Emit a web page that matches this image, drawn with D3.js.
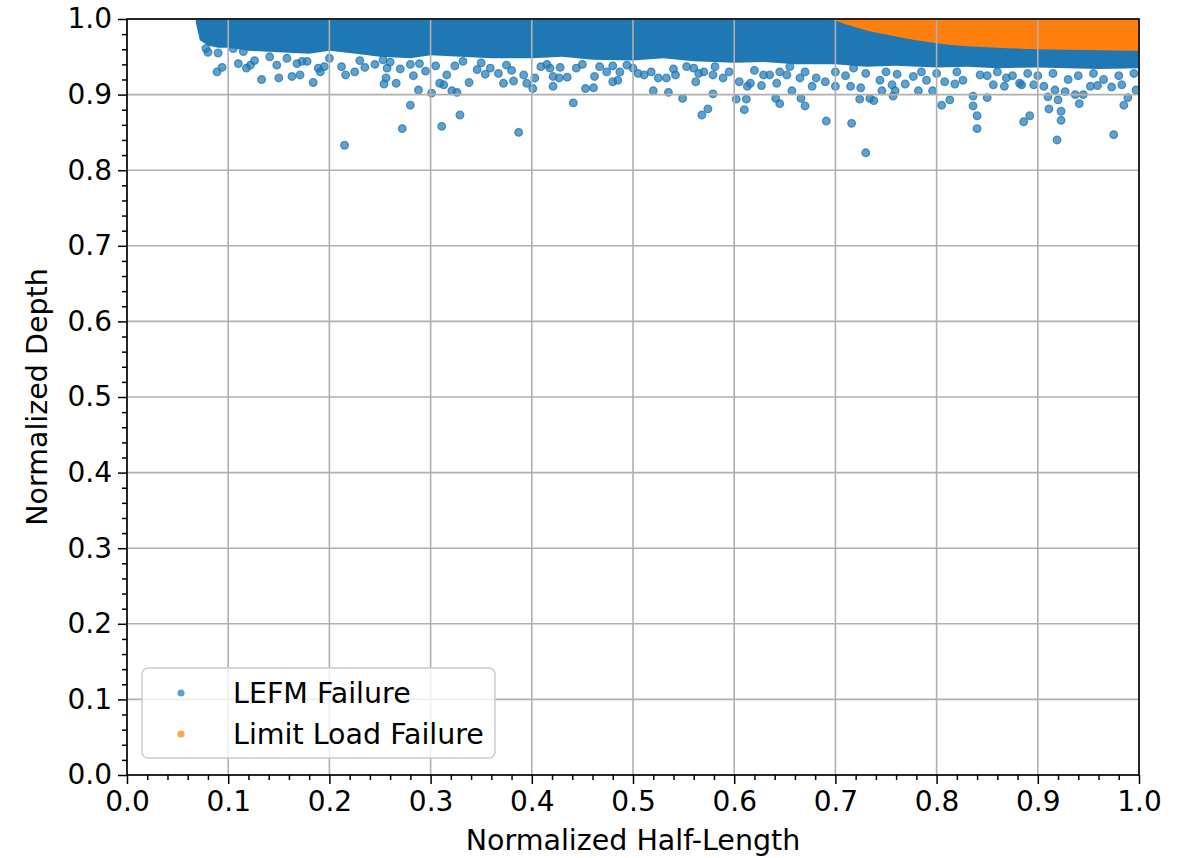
<!DOCTYPE html>
<html>
<head>
<meta charset="utf-8">
<script src="https://cdn.jsdelivr.net/npm/d3@7"></script>
<style>
  body { margin: 0; background: #fff; }
  svg { font-family: "DejaVu Sans", sans-serif; }
</style>
</head>
<body>
<svg id="chart" width="1185" height="858"></svg>
<script>
// tick labels
const majorTicks = [0.0, 0.1, 0.2, 0.3, 0.4, 0.5, 0.6, 0.7, 0.8, 0.9, 1.0];
const minorTicks = [0.02, 0.04, 0.06, 0.08, 0.12, 0.14, 0.16, 0.18, 0.22, 0.24, 0.26, 0.28,
  0.32, 0.34, 0.36, 0.38, 0.42, 0.44, 0.46, 0.48, 0.52, 0.54, 0.56, 0.58, 0.62, 0.64, 0.66, 0.68,
  0.72, 0.74, 0.76, 0.78, 0.82, 0.84, 0.86, 0.88, 0.92, 0.94, 0.96, 0.98];

// dense LEFM band: lower edge (top is 1.0)
const bandX   = [0.068, 0.072, 0.08, 0.09, 0.10, 0.12, 0.15, 0.18, 0.20, 0.22, 0.25, 0.28, 0.30, 0.33, 0.36, 0.40, 0.43, 0.46, 0.50, 0.53, 0.56, 0.60, 0.63, 0.66, 0.70, 0.73, 0.76, 0.80, 0.83, 0.86, 0.90, 0.93, 0.96, 1.00];
const bandLow = [0.995, 0.972, 0.965, 0.962, 0.962, 0.958, 0.956, 0.954, 0.958, 0.955, 0.950, 0.948, 0.952, 0.950, 0.948, 0.948, 0.950, 0.946, 0.945, 0.948, 0.944, 0.942, 0.943, 0.940, 0.940, 0.937, 0.938, 0.936, 0.937, 0.935, 0.936, 0.935, 0.934, 0.935];

// limit load region: lower edge (top is 1.0)
const limitX   = [0.695, 0.70, 0.71, 0.72, 0.73, 0.74, 0.76, 0.78, 0.80, 0.83, 0.86, 0.90, 0.95, 1.00];
const limitLow = [1.0, 0.998, 0.993, 0.989, 0.985, 0.982, 0.977, 0.972, 0.968, 0.964, 0.962, 0.960, 0.959, 0.958];

// scattered LEFM points below the band
const lefmX = [0.078, 0.080, 0.089, 0.094, 0.105, 0.110, 0.115, 0.118, 0.122, 0.126, 0.133, 0.141, 0.148, 0.150, 0.158, 0.163, 0.168, 0.171, 0.173, 0.178,
  0.184, 0.189, 0.191, 0.195, 0.212, 0.215, 0.216, 0.225, 0.235, 0.253, 0.256, 0.254, 0.257, 0.266, 0.270, 0.272, 0.280, 0.283, 0.288, 0.289,
  0.295, 0.301, 0.305, 0.309, 0.313, 0.311, 0.316, 0.321, 0.326, 0.329, 0.324, 0.332, 0.338, 0.346, 0.354, 0.359, 0.367, 0.372, 0.382, 0.387,
  0.392, 0.395, 0.375, 0.401, 0.403, 0.409, 0.418, 0.421, 0.421, 0.427, 0.428, 0.435, 0.441, 0.444, 0.453, 0.461, 0.462, 0.467, 0.474, 0.480,
  0.485, 0.487, 0.494, 0.505, 0.511, 0.518, 0.520, 0.525, 0.533, 0.535, 0.542, 0.549, 0.553, 0.560, 0.562, 0.565, 0.568, 0.574, 0.579, 0.579,
  0.581, 0.589, 0.602, 0.605, 0.610, 0.612, 0.613, 0.616, 0.627, 0.629, 0.635, 0.642, 0.641, 0.645, 0.652, 0.657, 0.655, 0.666, 0.665, 0.670,
  0.677, 0.681, 0.691, 0.690, 0.700, 0.716, 0.715, 0.724, 0.725, 0.730, 0.718, 0.734, 0.738, 0.744, 0.746, 0.756, 0.757, 0.759, 0.761, 0.769,
  0.777, 0.782, 0.790, 0.796, 0.805, 0.813, 0.808, 0.818, 0.826, 0.836, 0.836, 0.840, 0.840, 0.843, 0.850, 0.856, 0.867, 0.869, 0.882, 0.884,
  0.886, 0.892, 0.896, 0.906, 0.910, 0.911, 0.917, 0.920, 0.923, 0.923, 0.919, 0.927, 0.937, 0.941, 0.945, 0.952, 0.959, 0.973, 0.975, 0.983,
  0.985, 0.989, 0.997,
  0.090, 0.200, 0.230, 0.245, 0.260, 0.280, 0.350, 0.380, 0.415, 0.450, 0.480, 0.500, 0.540, 0.570, 0.595, 0.620, 0.645, 0.670, 0.700, 0.710,
  0.730, 0.750, 0.785, 0.800, 0.820, 0.850, 0.860, 0.875, 0.890, 0.900, 0.915, 0.930, 0.940, 0.955, 0.965, 0.980, 0.995];
const lefmY = [0.961, 0.956, 0.930, 0.936, 0.961, 0.941, 0.957, 0.935, 0.939, 0.945, 0.920, 0.950, 0.939, 0.922, 0.948, 0.924, 0.941, 0.926, 0.944, 0.944,
  0.916, 0.935, 0.930, 0.937, 0.937, 0.833, 0.926, 0.930, 0.936, 0.946, 0.922, 0.914, 0.935, 0.915, 0.934, 0.855, 0.886, 0.925, 0.906, 0.941,
  0.931, 0.902, 0.938, 0.915, 0.913, 0.858, 0.926, 0.905, 0.903, 0.873, 0.938, 0.944, 0.916, 0.933, 0.927, 0.935, 0.928, 0.915, 0.918, 0.850,
  0.926, 0.915, 0.939, 0.908, 0.922, 0.937, 0.935, 0.911, 0.924, 0.922, 0.936, 0.923, 0.889, 0.935, 0.908, 0.909, 0.924, 0.937, 0.930, 0.917,
  0.919, 0.930, 0.939, 0.928, 0.926, 0.930, 0.905, 0.922, 0.922, 0.903, 0.926, 0.895, 0.937, 0.935, 0.917, 0.928, 0.873, 0.881, 0.901, 0.926,
  0.937, 0.922, 0.894, 0.917, 0.880, 0.894, 0.911, 0.915, 0.912, 0.926, 0.926, 0.915, 0.895, 0.888, 0.926, 0.905, 0.937, 0.895, 0.922, 0.885,
  0.911, 0.922, 0.865, 0.917, 0.911, 0.862, 0.911, 0.894, 0.909, 0.823, 0.935, 0.895, 0.892, 0.919, 0.905, 0.913, 0.898, 0.905, 0.927, 0.914,
  0.924, 0.905, 0.919, 0.905, 0.886, 0.893, 0.917, 0.914, 0.919, 0.898, 0.885, 0.872, 0.855, 0.926, 0.896, 0.913, 0.911, 0.922, 0.915, 0.913,
  0.864, 0.872, 0.913, 0.911, 0.897, 0.881, 0.906, 0.893, 0.878, 0.866, 0.840, 0.904, 0.900, 0.888, 0.900, 0.911, 0.912, 0.910, 0.847, 0.913,
  0.886, 0.896, 0.906,
  0.955, 0.948, 0.945, 0.940, 0.943, 0.940, 0.942, 0.932, 0.940, 0.940, 0.938, 0.935, 0.934, 0.930, 0.930, 0.932, 0.930, 0.930, 0.930, 0.925,
  0.928, 0.930, 0.930, 0.928, 0.930, 0.925, 0.930, 0.925, 0.928, 0.925, 0.928, 0.920, 0.925, 0.928, 0.920, 0.925, 0.928];

const blue = "#1f77b4", orange = "#ff7f0e";
const svg = d3.select("#chart");
const m = { left: 127, right: 1139, top: 19, bottom: 775 };

const x = d3.scaleLinear().domain([0, 1]).range([m.left, m.right]);
const y = d3.scaleLinear().domain([0, 1]).range([m.bottom, m.top]);

const plot = svg.append("g");
svg.append("clipPath").attr("id", "clip")
  .append("rect").attr("x", m.left).attr("y", m.top)
  .attr("width", m.right - m.left).attr("height", m.bottom - m.top);
plot.attr("clip-path", "url(#clip)");

// dense band
const band = d3.area().x((d, i) => x(bandX[i])).y0(d => y(d)).y1(y(1.0));
plot.append("path").datum(bandLow).attr("d", band).attr("fill", blue);

// scattered points
plot.selectAll("circle.lefm")
  .data(lefmX.map((v, i) => [v, lefmY[i]]))
  .join("circle")
  .attr("class", "lefm")
  .attr("cx", d => x(d[0]))
  .attr("cy", d => y(d[1]))
  .attr("r", 3.8)
  .attr("fill", blue).attr("fill-opacity", 0.7)
  .attr("stroke", blue).attr("stroke-opacity", 0.75).attr("stroke-width", 1.3);

// limit load region
const lim = d3.area().x((d, i) => x(limitX[i])).y0(d => y(d)).y1(y(1.0)).curve(d3.curveMonotoneX);
plot.append("path").datum(limitLow).attr("d", lim).attr("fill", orange);

// grid on top
const grid = svg.append("g").attr("stroke", "#b0b0b0").attr("stroke-width", 1.6);
grid.selectAll("line.gx").data(majorTicks).join("line")
  .attr("class", "gx")
  .attr("x1", d => x(d)).attr("x2", d => x(d)).attr("y1", m.top).attr("y2", m.bottom);
grid.selectAll("line.gy").data(majorTicks).join("line")
  .attr("class", "gy")
  .attr("y1", d => y(d)).attr("y2", d => y(d)).attr("x1", m.left).attr("x2", m.right);

// axes
const fmt = d3.format(".1f");
const xAxis = svg.append("g").attr("transform", `translate(0,${m.bottom})`)
  .call(d3.axisBottom(x).tickValues(majorTicks).tickFormat(fmt).tickSize(9).tickPadding(7));
const yAxis = svg.append("g").attr("transform", `translate(${m.left},0)`)
  .call(d3.axisLeft(y).tickValues(majorTicks).tickFormat(fmt).tickSize(9).tickPadding(6));
svg.append("g").attr("transform", `translate(0,${m.bottom})`)
  .call(d3.axisBottom(x).tickValues(minorTicks).tickFormat("").tickSize(5))
  .call(g => g.select(".domain").remove());
svg.append("g").attr("transform", `translate(${m.left},0)`)
  .call(d3.axisLeft(y).tickValues(minorTicks).tickFormat("").tickSize(5))
  .call(g => g.select(".domain").remove());

svg.selectAll(".tick line").attr("stroke", "#000").attr("stroke-width", 1.5);
[xAxis, yAxis].forEach(a => {
  a.select(".domain").remove();
  a.selectAll("text").attr("font-size", 28).attr("fill", "#000")
    .attr("font-family", "DejaVu Sans");
});

// frame
svg.append("rect")
  .attr("x", m.left).attr("y", m.top)
  .attr("width", m.right - m.left).attr("height", m.bottom - m.top)
  .attr("fill", "none").attr("stroke", "#000").attr("stroke-width", 1.6);

// axis titles
svg.append("text").attr("x", (m.left + m.right) / 2).attr("y", 850)
  .attr("text-anchor", "middle").attr("font-size", 28.5).text("Normalized Half-Length");
svg.append("text").attr("transform", `translate(47,${(m.top + m.bottom) / 2}) rotate(-90)`)
  .attr("text-anchor", "middle").attr("font-size", 28.5).text("Normalized Depth");

// legend
const lg = svg.append("g");
lg.append("rect").attr("x", 142).attr("y", 668).attr("width", 353).attr("height", 90)
  .attr("rx", 6).attr("fill", "#fff").attr("fill-opacity", 0.8)
  .attr("stroke", "#ccc").attr("stroke-width", 1.5);
const legendItems = [["LEFM Failure", blue], ["Limit Load Failure", orange]];
legendItems.forEach((d, i) => {
  const cy = 693 + i * 41;
  lg.append("circle").attr("cx", 181).attr("cy", cy).attr("r", 3.6)
    .attr("fill", d[1]).attr("fill-opacity", 0.7);
  lg.append("text").attr("x", 233).attr("y", cy + 10).attr("font-size", 28.5)
    .attr("fill", "#000").text(d[0]);
});
</script>
</body>
</html>
